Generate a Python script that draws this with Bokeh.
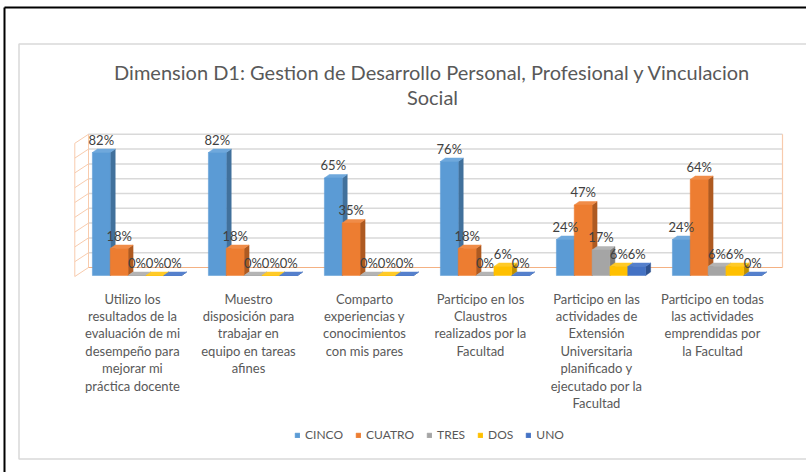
from bokeh.plotting import figure
from bokeh.models import ColumnDataSource, Range1d, Legend, LegendItem
from bokeh.core.properties import value
from bokeh.embed import file_html
from bokeh.resources import INLINE

# ---------------- data ----------------
categories = [
    "Utilizo los\nresultados de la\nevaluación de mi\ndesempeño para\nmejorar mi\npráctica docente",
    "Muestro\ndisposición para\ntrabajar en\nequipo en tareas\nafines",
    "Comparto\nexperiencias y\nconocimientos\ncon mis pares",
    "Participo en los\nClaustros\nrealizados por la\nFacultad",
    "Participo en las\nactividades de\nExtensión\nUniversitaria\nplanificado y\nejecutado por la\nFacultad",
    "Participo en todas\nlas actividades\nemprendidas por\nla Facultad",
]
series_names = ["CINCO", "CUATRO", "TRES", "DOS", "UNO"]
cinco = [82, 82, 65, 76, 24, 24]
cuatro = [18, 18, 35, 18, 47, 64]
tres = [0, 0, 0, 0, 17, 6]
dos = [0, 0, 0, 6, 6, 6]
uno = [0, 0, 0, 0, 6, 0]
series_values = [cinco, cuatro, tres, dos, uno]
grid_ticks = [0, 10, 20, 30, 40, 50, 60, 70, 80, 90]
title_text = "Dimension D1: Gestion de Desarrollo Personal, Profesional y Vinculacion\nSocial"

# ---------------- styles ----------------
front_colors = ["#5B9BD5", "#ED7D31", "#A5A5A5", "#FFC000", "#4472C4"]
top_colors = ["#6FA8DC", "#F08C48", "#B4B4B4", "#FFCA28", "#5580CC"]
side_colors = ["#41719C", "#AE5A21", "#7C7C7C", "#BF9000", "#2F528F"]
FONT = "Lato"
W = 1 / 6.5          # bar width (gap width 150%)
SX, SY = 116.0, 1.5  # pixels per category / per percent
DXB, DYB = 5 / SX, 3.5 / SY   # bar depth offset
WALL_SCALE = 0.9867

def px_x(px):
    return (px - 78.5) / SX

def px_y(py):
    return (275 - py) / SY

p = figure(width=806, height=472, output_backend="svg", toolbar_location=None,
           x_range=Range1d(px_x(0), px_x(806)), y_range=Range1d(px_y(472), px_y(0)),
           min_border=0)
p.axis.visible = False
p.grid.visible = False
p.outline_line_color = None
p.background_fill_color = "white"
p.border_fill_color = "white"

# outer black border (left, top) and inner light chart border
p.line([px_x(4), px_x(4)], [px_y(472), px_y(7)], line_color="black", line_width=2)
p.line([px_x(4), px_x(806)], [px_y(7), px_y(7)], line_color="black", line_width=2)
p.line([px_x(806), px_x(18.5), px_x(18.5), px_x(806)],
       [px_y(43.5), px_y(43.5), px_y(458.5), px_y(458.5)], line_color="#D9D9D9", line_width=1.5)

# walls
back_x0, back_x1 = px_x(88), px_x(782)
front_x0 = px_x(74.3)
back_base = px_y(267)
front_base = px_y(276)
gy = [back_base + t * WALL_SCALE for t in grid_ticks[1:]]
p.segment(x0=[back_x0] * len(gy), y0=gy, x1=[back_x1] * len(gy), y1=gy,
          line_color="#D9D9D9", line_width=1.5)
p.segment(x0=[front_x0] * len(grid_ticks), y0=[front_base + t * WALL_SCALE for t in grid_ticks],
          x1=[back_x0] * len(grid_ticks), y1=[back_base + t * WALL_SCALE for t in grid_ticks],
          line_color="#F8CBAD", line_width=1)
top_t = grid_ticks[-1]
p.line([front_x0, front_x0], [front_base, front_base + top_t * WALL_SCALE], line_color="#F8CBAD", line_width=1)
p.line([back_x0, back_x0], [back_base, back_base + top_t * WALL_SCALE], line_color="#F8CBAD", line_width=1)
p.line([back_x1, back_x1], [back_base, back_base + top_t * WALL_SCALE], line_color="#F8CBAD", line_width=1.2)
p.line([back_x0, back_x1], [back_base, back_base], line_color="#F4B183", line_width=1.2)

# bars
front_renderers = []
lab_x, lab_y, lab_t = [], [], []
for j, (name, vals) in enumerate(zip(series_names, series_values)):
    xl = [i + 0.5 - 2.5 * W + j * W for i in range(len(vals))]
    xr = [x + W for x in xl]
    side_xs = [[r, r + DXB, r + DXB, r] for r in xr]
    side_ys = [[0, DYB, v + DYB, v] for v in vals]
    top_xs = [[l, r, r + DXB, l + DXB] for l, r in zip(xl, xr)]
    top_ys = [[v, v, v + DYB, v + DYB] for v in vals]
    p.patches(side_xs, side_ys, fill_color=side_colors[j], line_color=side_colors[j], line_width=0.5)
    p.patches(top_xs, top_ys, fill_color=top_colors[j], line_color=top_colors[j], line_width=0.5)
    src = ColumnDataSource(dict(left=xl, right=xr, bottom=[0] * len(vals), top=vals))
    r = p.quad(left="left", right="right", bottom="bottom", top="top", source=src,
               fill_color=front_colors[j], line_color=front_colors[j], line_width=0.5)
    front_renderers.append(r)
    for l, v in zip(xl, vals):
        lab_x.append(l + W / 2)
        lab_y.append(v + 13 / SY)
        lab_t.append(f"{v}%")

p.text(lab_x, lab_y, text=lab_t, text_font=value(FONT), text_font_size="13px",
       text_color="#404040", text_align="center", text_baseline="middle")

# category labels
cat_x = [i + 0.5 - 4.5 / SX for i in range(len(categories))]
p.text(cat_x, [px_y(290)] * len(categories), text=categories, text_font=value(FONT),
       text_font_size="13px", text_color="#595959", text_align="center",
       text_baseline="top", text_line_height=1.09)

# title
p.text([px_x(432)], [px_y(59)], text=[title_text], text_font=value(FONT),
       text_font_size="20px", text_color="#595959", text_align="center",
       text_baseline="top", text_line_height=1.05)

legend = Legend(items=[LegendItem(label=n, renderers=[r]) for n, r in zip(series_names, front_renderers)],
                orientation="horizontal", location=(294, 30), glyph_width=6, glyph_height=6,
                label_standoff=5, spacing=12, padding=0, margin=0, border_line_color=None,
                background_fill_alpha=0, label_text_font=FONT, label_text_font_size="12px",
                label_text_color="#595959")
p.add_layout(legend)

open("out.html", "w").write(file_html(p, INLINE))
